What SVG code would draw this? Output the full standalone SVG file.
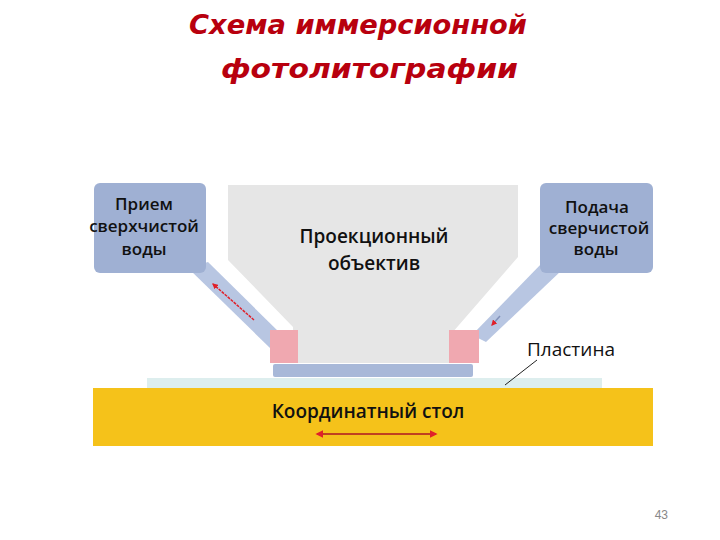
<svg xmlns="http://www.w3.org/2000/svg" width="720" height="540" viewBox="0 0 720 540">
<defs>
<style>
.t{font-family:"Open Sans","DejaVu Sans",sans-serif;font-weight:600;fill:#111;text-anchor:middle}
.ttl{font-family:"DejaVu Sans",sans-serif;font-style:italic;font-weight:bold;fill:#b8000e;font-size:27px}
.box{fill:#9fb0d3}
.tube{fill:#b8c6e2}
.pink{fill:#f0a8b0}
</style>
<marker id="ah" viewBox="0 0 10 10" refX="8" refY="5" markerWidth="4" markerHeight="4" orient="auto-start-reverse"><path d="M0,0L10,5L0,10z" fill="#e0202a"/></marker>
</defs>
<rect width="720" height="540" fill="#fff"/>
<text class="ttl" x="189" y="34" textLength="338" lengthAdjust="spacingAndGlyphs">Схема иммерсионной</text>
<text class="ttl" x="221" y="78" textLength="297" lengthAdjust="spacingAndGlyphs">фотолитографии</text>
<g id="tubes">
<polygon class="tube" points="188,268 208,262 282,335 270,348"/>
<polygon class="tube" points="543,262 562,270 486,342 472,335"/>
</g>
<g id="lens">
<polygon fill="#e6e6e6" points="228,185 518,185 518,257 452,333 452,363 293,363 293,327 228,260"/>
<text class="t" x="374" y="243" font-size="19">Проекционный</text>
<text class="t" x="374" y="270" font-size="19">объектив</text>
</g>
<g id="seals">
<rect class="pink" x="270" y="330" width="28" height="33"/>
<rect class="pink" x="449" y="330" width="30" height="33"/>
</g>
<rect id="plate" x="273" y="364" width="200" height="13" rx="2" fill="#a8b8d8"/>
<g id="intake">
<rect class="box" x="94" y="183" width="112" height="90" rx="6"/>
<text class="t" x="144" y="210" font-size="17">Прием</text>
<text class="t" x="144" y="232" font-size="17">сверхчистой</text>
<text class="t" x="144" y="255" font-size="17">воды</text>
</g>
<g id="supply">
<rect class="box" x="540" y="183" width="113" height="90" rx="6"/>
<text class="t" x="597" y="213" font-size="17">Подача</text>
<text class="t" x="599" y="234" font-size="17">сверчистой</text>
<text class="t" x="596" y="255" font-size="17">воды</text>
</g>
<g id="wafer">
<rect x="147" y="378" width="455" height="10" fill="#ddeeee"/>
<text x="527" y="356" font-family="Open Sans,DejaVu Sans,sans-serif" font-size="19" fill="#111">Пластина</text>
</g>
<g id="stage">
<rect x="93" y="388" width="560" height="58" fill="#f5c21a"/>
<text class="t" x="368" y="418" font-size="19">Координатный стол</text>
</g>
<g id="connectors" fill="none">
<line x1="254" y1="320" x2="213" y2="284" stroke="#e0202a" stroke-width="1.5" stroke-dasharray="3,1" marker-end="url(#ah)"/>
<line x1="500" y1="316" x2="492" y2="325" stroke="#8090b8" stroke-width="1.5" marker-end="url(#ah)"/>
<line x1="317" y1="434" x2="436" y2="434" stroke="#c04020" stroke-width="2" marker-start="url(#ah)" marker-end="url(#ah)"/>
<line x1="537" y1="360" x2="505" y2="385" stroke="#222" stroke-width="1"/>
</g>
<text x="668" y="519" font-family="Liberation Sans,sans-serif" font-size="12" fill="#888" text-anchor="end">43</text>
</svg>
